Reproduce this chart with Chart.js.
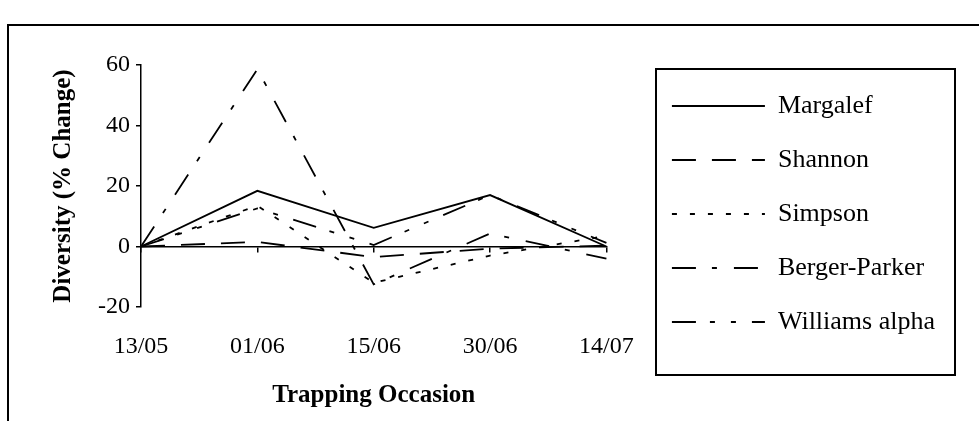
<!DOCTYPE html>
<html>
<head>
<meta charset="utf-8">
<script src="https://cdn.jsdelivr.net/npm/chart.js@4/dist/chart.umd.min.js"></script>
<style>
  body { margin: 0; background: #fff; overflow: hidden; }
  #frame { position: absolute; left: 7px; top: 24px; width: 1200px; height: 700px; border: 2px solid #000; }
  #legendBox { position: absolute; left: 655px; top: 68px; width: 301px; height: 308px; border: 2px solid #000; box-sizing: border-box; }
  #myChart { position: absolute; left: 0; top: 0; }
</style>
</head>
<body>
<div id="frame"></div>
<div id="legendBox"></div>
<canvas id="myChart" width="979" height="421"></canvas>
<script>
// data
var occasions = ['13/05', '01/06', '15/06', '30/06', '14/07'];
var margalef = [0, 18.4, 6.2, 17.0, 0];
var shannon = [0, 1.5, -3.5, -0.7, 0.3];
var simpson = [0, 13.5, -12, -3, 3.5];
var bergerParker = [0, 58.6, -12.5, 4.3, -4];
var williamsAlpha = [0, 12.6, 0.5, 17, 1.2];
var yMin = -20, yMax = 60, yStep = 20;

var serif = 'Liberation Serif';

function line(label, data, dash) {
    return {
        label: label,
        data: data,
        borderColor: '#000',
        backgroundColor: '#000',
        borderWidth: 1.8,
        borderDash: dash,
        pointRadius: 0,
        tension: 0,
        fill: false
    };
}

var ctx = document.getElementById('myChart').getContext('2d');
var chart = new Chart(ctx, {
    type: 'line',
    data: {
        labels: occasions,
        datasets: [
            line('Margalef', margalef, []),
            line('Shannon', shannon, [24, 16]),
            line('Simpson', simpson, [5, 13]),
            line('Berger-Parker', bergerParker, [24, 16, 5, 17]),
            line('Williams alpha', williamsAlpha, [24, 14, 5, 16, 5, 16])
        ]
    },
    options: {
        responsive: false,
        animation: false,
        devicePixelRatio: 1,
        layout: { padding: { top: 65, left: 45, right: 34, bottom: 6 } },
        plugins: {
            tooltip: { enabled: false },
            legend: {
                position: 'right',
                align: 'start',
                maxWidth: 400,
                labels: {
                    usePointStyle: true,
                    pointStyle: 'line',
                    pointStyleWidth: 93,
                    padding: 28,
                    color: '#000',
                    font: { family: serif, size: 26 },
                    generateLabels: function (c) {
                        var items = Chart.defaults.plugins.legend.labels.generateLabels(c);
                        items.forEach(function (it) {
                            var ds = c.data.datasets[it.datasetIndex];
                            it.lineDash = ds.borderDash;
                            it.lineWidth = ds.borderWidth;
                            it.strokeStyle = '#000';
                        });
                        return items;
                    }
                }
            }
        },
        scales: {
            x: {
                offset: false,
                grid: { display: false, drawTicks: false },
                border: { display: false },
                ticks: { color: '#000', padding: 25, font: { family: serif, size: 24 } },
                title: {
                    display: true,
                    text: 'Trapping Occasion',
                    color: '#000',
                    padding: { top: 4, bottom: 4 },
                    font: { family: serif, size: 25, weight: 'bold' }
                },
                afterFit: function (s) { s.height = 108; }
            },
            x2: {
                type: 'category',
                position: { y: 0 },
                offset: false,
                grid: { display: true, drawOnChartArea: false, drawTicks: true, tickLength: 5, color: '#000', lineWidth: 1.5 },
                border: { display: true, color: '#000', width: 1.5 },
                ticks: { display: false }
            },
            y: {
                min: yMin,
                max: yMax,
                grid: { drawOnChartArea: false, drawTicks: true, tickLength: 5, color: '#000', lineWidth: 1.5 },
                border: { display: true, color: '#000', width: 1.5 },
                ticks: { stepSize: yStep, padding: 6, color: '#000', font: { family: serif, size: 24 } },
                title: {
                    display: true,
                    text: 'Diversity (% Change)',
                    color: '#000',
                    padding: { top: 4, bottom: 4 },
                    font: { family: serif, size: 25, weight: 'bold' }
                },
                afterFit: function (s) { s.width = 96; }
            },
            yr: {
                type: 'linear',
                position: 'right',
                display: true,
                grid: { display: false },
                border: { display: false },
                ticks: { display: false },
                afterFit: function (s) { s.width = 37.5; }
            }
        }
    }
});
</script>
</body>
</html>
